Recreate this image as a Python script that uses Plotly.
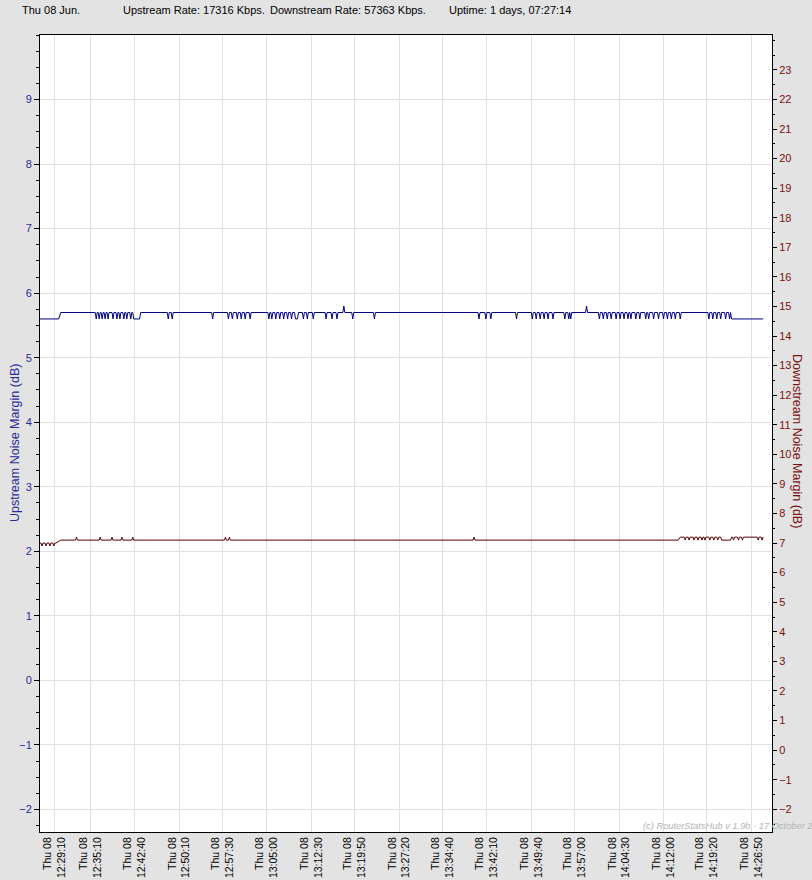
import plotly.graph_objects as go

DATE = "2017-06-08 "

# ---------------- data ----------------
up_times = [
    "12:26:40", "12:29:50", "12:30:10",
    "12:36:00", "12:36:10", "12:36:20", "12:36:30", "12:36:40", "12:36:50",
    "12:37:00", "12:37:10", "12:37:20", "12:37:30", "12:37:40", "12:37:50",
    "12:38:00", "12:38:10", "12:38:20",
    "12:38:50", "12:39:00", "12:39:10", "12:39:30", "12:39:40", "12:39:50",
    "12:40:00", "12:40:10", "12:40:20", "12:40:40", "12:40:50", "12:41:00",
    "12:41:10", "12:41:20", "12:41:30", "12:41:50", "12:42:00", "12:42:10",
    "12:42:20", "12:42:30", "12:43:30", "12:43:40",
    "12:48:10", "12:48:20", "12:48:30", "12:48:50", "12:49:00", "12:49:10",
    "12:55:40", "12:55:50", "12:56:00",
    "12:58:20", "12:58:30", "12:58:40", "12:59:00", "12:59:10", "12:59:20",
    "12:59:50", "13:00:00", "13:00:10", "13:00:30", "13:00:40", "13:00:50",
    "13:01:10", "13:01:20", "13:01:30", "13:02:00", "13:02:10", "13:02:20",
    "13:05:10", "13:05:20", "13:05:30", "13:05:40", "13:05:50", "13:06:00",
    "13:06:20", "13:06:30", "13:06:40", "13:07:00", "13:07:10", "13:07:20",
    "13:07:40", "13:07:50", "13:08:00", "13:08:20", "13:08:30", "13:08:40",
    "13:09:00", "13:09:10", "13:09:20", "13:09:40", "13:09:50", "13:10:10",
    "13:10:20",
    "13:11:00", "13:11:10", "13:11:20", "13:11:40", "13:11:50", "13:12:00",
    "13:12:40", "13:12:50", "13:13:00",
    "13:14:50", "13:15:00", "13:15:10", "13:15:50", "13:16:00", "13:16:10",
    "13:16:40", "13:16:50", "13:17:00",
    "13:17:50", "13:18:00", "13:18:10",
    "13:19:20", "13:19:30", "13:19:40",
    "13:23:00", "13:23:10", "13:23:20",
    "13:40:40", "13:40:50", "13:41:00", "13:41:50", "13:42:00", "13:42:10",
    "13:42:40", "13:42:50", "13:43:00",
    "13:47:00", "13:47:10", "13:47:20",
    "13:49:40", "13:49:50", "13:50:00", "13:50:20", "13:50:30", "13:50:40",
    "13:51:00", "13:51:10", "13:51:20", "13:51:40", "13:51:50", "13:52:00",
    "13:52:20", "13:52:30", "13:52:40", "13:53:10", "13:53:20", "13:53:30",
    "13:55:10", "13:55:20", "13:55:30", "13:55:50", "13:56:00", "13:56:10",
    "13:56:20", "13:56:30",
    "13:58:50", "13:59:00", "13:59:10",
    "14:01:00", "14:01:10", "14:01:20", "14:01:40", "14:01:50", "14:02:00",
    "14:02:20", "14:02:30", "14:02:40", "14:03:00", "14:03:10", "14:03:20",
    "14:03:50", "14:04:00", "14:04:10", "14:04:30", "14:04:40", "14:04:50",
    "14:05:10", "14:05:20", "14:05:30", "14:05:50", "14:06:00", "14:06:10",
    "14:06:20", "14:06:30", "14:06:40", "14:07:10", "14:07:20", "14:07:30",
    "14:07:50", "14:08:00", "14:08:10", "14:08:50", "14:09:00", "14:09:10",
    "14:09:20", "14:09:30", "14:09:40", "14:10:10", "14:10:20", "14:10:30",
    "14:11:00", "14:11:10", "14:11:20", "14:11:50", "14:12:00", "14:12:10",
    "14:12:30", "14:12:40", "14:12:50", "14:13:10", "14:13:20", "14:13:30",
    "14:13:50", "14:14:00", "14:14:10", "14:14:40", "14:14:50", "14:15:00",
    "14:19:30", "14:19:40", "14:19:50", "14:20:10", "14:20:20", "14:20:30",
    "14:20:50", "14:21:00", "14:21:10", "14:21:30", "14:21:40", "14:21:50",
    "14:22:20", "14:22:30", "14:22:40", "14:23:00", "14:23:10", "14:23:20",
    "14:23:30", "14:28:50",
]
up_values = [
    5.6, 5.6, 5.7,
    5.7, 5.6, 5.7, 5.7, 5.6, 5.7,
    5.7, 5.6, 5.7, 5.7, 5.6, 5.7,
    5.7, 5.6, 5.7,
    5.7, 5.6, 5.7, 5.7, 5.6, 5.7,
    5.7, 5.6, 5.7, 5.7, 5.6, 5.7,
    5.7, 5.6, 5.7, 5.7, 5.6, 5.7,
    5.7, 5.6, 5.6, 5.7,
    5.7, 5.6, 5.7, 5.7, 5.6, 5.7,
    5.7, 5.6, 5.7,
    5.7, 5.6, 5.7, 5.7, 5.6, 5.7,
    5.7, 5.6, 5.7, 5.7, 5.6, 5.7,
    5.7, 5.6, 5.7, 5.7, 5.6, 5.7,
    5.7, 5.6, 5.7, 5.7, 5.6, 5.7,
    5.7, 5.6, 5.7, 5.7, 5.6, 5.7,
    5.7, 5.6, 5.7, 5.7, 5.6, 5.7,
    5.7, 5.6, 5.7, 5.7, 5.6, 5.6,
    5.7,
    5.7, 5.6, 5.7, 5.7, 5.6, 5.7,
    5.7, 5.6, 5.7,
    5.7, 5.6, 5.7, 5.7, 5.6, 5.7,
    5.7, 5.6, 5.7,
    5.7, 5.8, 5.7,
    5.7, 5.6, 5.7,
    5.7, 5.6, 5.7,
    5.7, 5.6, 5.7, 5.7, 5.6, 5.7,
    5.7, 5.6, 5.7,
    5.7, 5.6, 5.7,
    5.7, 5.6, 5.7, 5.7, 5.6, 5.7,
    5.7, 5.6, 5.7, 5.7, 5.6, 5.7,
    5.7, 5.6, 5.7, 5.7, 5.6, 5.7,
    5.7, 5.6, 5.7, 5.7, 5.6, 5.7,
    5.6, 5.7,
    5.7, 5.8, 5.7,
    5.7, 5.6, 5.7, 5.7, 5.6, 5.7,
    5.7, 5.6, 5.7, 5.7, 5.6, 5.7,
    5.7, 5.6, 5.7, 5.7, 5.6, 5.7,
    5.7, 5.6, 5.7, 5.7, 5.6, 5.7,
    5.7, 5.6, 5.7, 5.7, 5.6, 5.7,
    5.7, 5.6, 5.7, 5.7, 5.6, 5.7,
    5.7, 5.6, 5.7, 5.7, 5.6, 5.7,
    5.7, 5.6, 5.7, 5.7, 5.6, 5.7,
    5.7, 5.6, 5.7, 5.7, 5.6, 5.7,
    5.7, 5.6, 5.7, 5.7, 5.6, 5.7,
    5.7, 5.6, 5.7, 5.7, 5.6, 5.7,
    5.7, 5.6, 5.7, 5.7, 5.6, 5.7,
    5.7, 5.6, 5.7, 5.7, 5.6, 5.7,
    5.6, 5.6,
]

down_times = [
    "12:26:40", "12:26:50", "12:27:00", "12:27:10", "12:27:30", "12:27:40",
    "12:27:50", "12:28:10", "12:28:20", "12:28:30", "12:28:50", "12:29:00",
    "12:29:10", "12:29:20", "12:30:10",
    "12:32:40", "12:32:50", "12:33:00",
    "12:36:40", "12:36:50", "12:37:00",
    "12:38:40", "12:38:50", "12:39:00",
    "12:40:20", "12:40:30", "12:40:40",
    "12:42:10", "12:42:20", "12:42:30",
    "12:57:50", "12:58:00", "12:58:10", "12:58:30", "12:58:40", "12:58:50",
    "13:39:50", "13:40:00", "13:40:10",
    "14:14:30", "14:14:50",
    "14:15:30", "14:15:40", "14:15:50", "14:16:10", "14:16:20", "14:16:30",
    "14:17:00", "14:17:10", "14:17:20", "14:17:40", "14:17:50", "14:18:00",
    "14:18:20", "14:18:30", "14:18:40", "14:18:50", "14:19:00", "14:19:10",
    "14:19:40", "14:19:50", "14:20:00", "14:20:20", "14:20:30", "14:20:40",
    "14:21:00", "14:21:10", "14:21:20",
    "14:21:40", "14:21:50", "14:23:20", "14:23:30",
    "14:23:40", "14:23:50", "14:24:00", "14:24:30", "14:24:40", "14:24:50",
    "14:25:10", "14:25:20", "14:25:30",
    "14:27:50", "14:28:00", "14:28:10", "14:28:30", "14:28:40", "14:28:50",
]
down_values = [
    7.0, 7.0, 6.9, 7.0, 7.0, 6.9,
    7.0, 7.0, 6.9, 7.0, 7.0, 6.9,
    7.0, 7.0, 7.1,
    7.1, 7.2, 7.1,
    7.1, 7.2, 7.1,
    7.1, 7.2, 7.1,
    7.1, 7.2, 7.1,
    7.1, 7.2, 7.1,
    7.1, 7.2, 7.1, 7.1, 7.2, 7.1,
    7.1, 7.2, 7.1,
    7.1, 7.2,
    7.2, 7.1, 7.2, 7.2, 7.1, 7.2,
    7.2, 7.1, 7.2, 7.2, 7.1, 7.2,
    7.2, 7.1, 7.2, 7.2, 7.1, 7.2,
    7.2, 7.1, 7.2, 7.2, 7.1, 7.2,
    7.2, 7.1, 7.2,
    7.2, 7.1, 7.1, 7.2,
    7.2, 7.1, 7.2, 7.2, 7.1, 7.2,
    7.2, 7.1, 7.2,
    7.2, 7.1, 7.2, 7.2, 7.1, 7.2,
]

tick_times = ["12:29:10", "12:35:10", "12:42:40", "12:50:10", "12:57:30",
              "13:05:00", "13:12:30", "13:19:50", "13:27:20", "13:34:40",
              "13:42:10", "13:49:40", "13:57:00", "14:04:30", "14:12:00",
              "14:19:20", "14:26:50"]
tick_day = "Thu 08"

up_ticks = [-2, -1, 0, 1, 2, 3, 4, 5, 6, 7, 8, 9]
down_ticks = list(range(-2, 24))

header_texts = ["Thu 08 Jun.", "Upstream Rate: 17316 Kbps.",
                "Downstream Rate: 57363 Kbps.", "Uptime: 1 days, 07:27:14"]

x_start, x_end = "12:26:40", "14:30:20"

# ---------------- figure ----------------
W, H = 812, 880
ML, MR, MT, MB = 40, 40, 35, 48
PW, PH = W - ML - MR, H - MT - MB


def px(xp):
    return (xp - ML) / PW


def py(yp):
    return (H - MB - yp) / PH


FONT = "Liberation Sans, Arial, sans-serif"
BLUE = "#2b2b9a"
RED = "#7a1010"

fig = go.Figure()
fig.add_trace(go.Scatter(
    x=[DATE + t for t in up_times], y=up_values, mode="lines",
    line=dict(color="#000080", width=1), yaxis="y", hoverinfo="skip"))
fig.add_trace(go.Scatter(
    x=[DATE + t for t in down_times], y=down_values, mode="lines",
    line=dict(color="#5a0000", width=1), yaxis="y2", hoverinfo="skip"))

annotations = []
for xp, txt in zip([20, 121, 268, 447], header_texts):
    annotations.append(dict(text=txt, x=px(xp), y=py(10), xref="paper", yref="paper",
                            xanchor="left", yanchor="middle", showarrow=False,
                            font=dict(family=FONT, size=11, color="#000000")))
annotations.append(dict(text="Upstream Noise Margin (dB)", x=px(15), y=py(443),
                        xref="paper", yref="paper", textangle=-90, showarrow=False,
                        xanchor="center", yanchor="middle",
                        font=dict(family=FONT, size=12.5, color=BLUE)))
annotations.append(dict(text="Downstream Noise Margin (dB)", x=px(797), y=py(441),
                        xref="paper", yref="paper", textangle=90, showarrow=False,
                        xanchor="center", yanchor="middle",
                        font=dict(family=FONT, size=12.5, color=RED)))
annotations.append(dict(text="<i>(c) RouterStatsHub v 1.9b - 17 October 2</i>",
                        x=px(641), y=py(826), xref="paper", yref="paper",
                        xanchor="left", yanchor="middle", showarrow=False,
                        font=dict(family=FONT, size=9.3, color="#b4b4b4")))

fig.update_layout(
    width=W, height=H,
    margin=dict(l=ML, r=MR, t=MT, b=MB, pad=0, autoexpand=False),
    paper_bgcolor="#e3e3e3", plot_bgcolor="#ffffff",
    showlegend=False,
    font=dict(family=FONT, size=11, color="#000000"),
    annotations=annotations,
    xaxis=dict(
        type="date", range=[DATE + x_start, DATE + x_end], automargin=False,
        tickmode="array", tickvals=[DATE + t for t in tick_times],
        ticktext=[tick_day + "<br>" + t for t in tick_times],
        tickangle=-90, ticks="", showgrid=True, gridcolor="#e0e0e0", gridwidth=1,
        showline=True, linecolor="#000000", linewidth=1, mirror=True,
        zeroline=False, tickfont=dict(family=FONT, size=10.5, color="#000000"),
    ),
    yaxis=dict(
        range=[-2.35, 10], tickmode="array", tickvals=up_ticks, automargin=False,
        showgrid=True, gridcolor="#e0e0e0",
        showline=True, linecolor="#000000", linewidth=1, zeroline=False,
        ticks="outside", ticklen=5, tickcolor="#000000",
        tickfont=dict(family=FONT, size=11, color=BLUE),
        minor=dict(dtick=0.25, tick0=0, ticks="outside", ticklen=3,
                   tickcolor="#000000", showgrid=False),
    ),
    yaxis2=dict(
        range=[-2.77, 24.18], tickmode="array", tickvals=down_ticks, automargin=False,
        overlaying="y", side="right",
        showgrid=False, showline=True, linecolor="#000000", linewidth=1,
        zeroline=False, ticks="outside", ticklen=4, tickcolor="#000000",
        tickfont=dict(family=FONT, size=11, color=RED),
        minor=dict(dtick=0.5, tick0=0, ticks="outside", ticklen=2,
                   tickcolor="#000000", showgrid=False),
    ),
)

fig.write_html("out.html", config={"displayModeBar": False},
               post_script="document.body.style.margin='0';document.body.style.overflow='hidden';")
